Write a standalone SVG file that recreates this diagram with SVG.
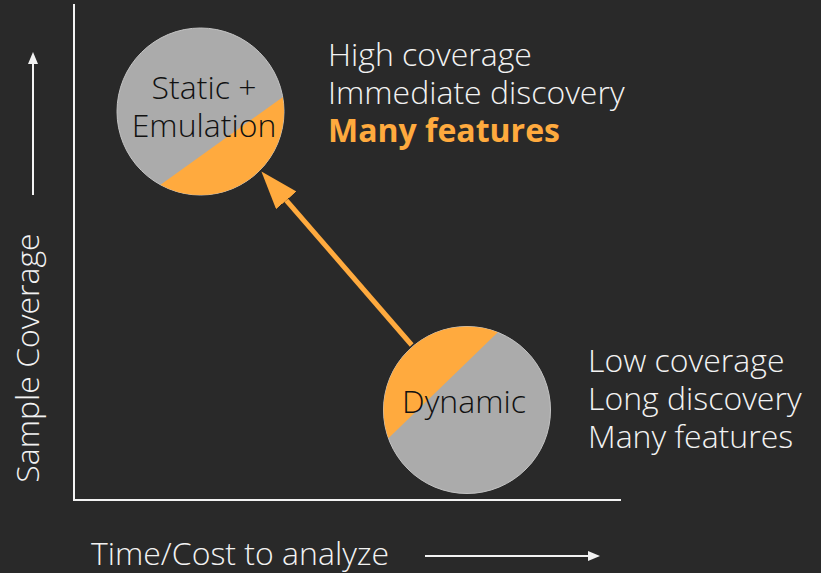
<svg xmlns="http://www.w3.org/2000/svg" width="821" height="573" viewBox="0 0 821 573">
  <style>
    .bg { fill: #292929; }
    .axis { stroke: #f2f2f2; stroke-width: 2; fill: none; }
    .guide { stroke: #f2f2f2; stroke-width: 2; fill: none; }
    .disc { fill: #ababab; stroke: #c4c4c4; stroke-width: 1; }
    .slice { fill: #ffaa3e; }
    .label { font-family: "Open Sans", "Liberation Sans", sans-serif; font-weight: 300; font-size: 32px; }
    .node-text { fill: #111111; text-anchor: middle; }
    .note { fill: #f2f2f2; }
    .note-hi { fill: #ffaa3e; font-weight: 700; }
    .axis-title { fill: #f2f2f2; }
    .flow { stroke: #ffaa3e; stroke-width: 5; fill: none; }
  </style>
  <defs>
    <marker id="head-white" markerUnits="userSpaceOnUse" viewBox="0 0 12 10" markerWidth="12" markerHeight="10" refX="0" refY="5" orient="auto">
      <path d="M0,0 L12,5 L0,10 z" fill="#f2f2f2"/>
    </marker>
    <marker id="head-orange" markerUnits="userSpaceOnUse" viewBox="0 0 38 27" markerWidth="38" markerHeight="27" refX="0" refY="13.5" orient="auto">
      <path d="M0,0 L38,13.5 L0,27 z" fill="#ffaa3e"/>
    </marker>
    <clipPath id="clip-static">
      <circle cx="200.5" cy="111.5" r="83.5"/>
    </clipPath>
    <clipPath id="clip-dynamic">
      <circle cx="467" cy="410" r="83.5"/>
    </clipPath>
  </defs>

  <rect class="bg" x="0" y="0" width="821" height="573"/>

  <!-- chart axes -->
  <g id="axes">
    <polyline class="axis" points="74,4 74,500 621,500"/>
    <line class="guide" x1="33" y1="195" x2="33" y2="64" marker-end="url(#head-white)"/>
    <line class="guide" x1="425" y1="556" x2="588" y2="556" marker-end="url(#head-white)"/>
    <text class="label axis-title" transform="translate(39,358) rotate(-90)" text-anchor="middle">Sample Coverage</text>
    <text class="label axis-title" x="91" y="565">Time/Cost to analyze</text>
  </g>

  <!-- connectors -->
  <g id="connectors">
    <line class="flow" x1="411.7" y1="345" x2="286.3" y2="200.3" marker-end="url(#head-orange)"/>
  </g>

  <!-- node: static + emulation -->
  <g id="node-static">
    <circle class="disc" cx="200.5" cy="111.5" r="83.5"/>
    <polygon class="slice" clip-path="url(#clip-static)" points="43,269 403,11 403,300 43,300"/>
    <text class="label node-text" x="204" y="99">Static +</text>
    <text class="label node-text" x="204" y="137">Emulation</text>
  </g>

  <!-- node: dynamic -->
  <g id="node-dynamic">
    <circle class="disc" cx="467" cy="410" r="83.5"/>
    <polygon class="slice" clip-path="url(#clip-dynamic)" points="280.6,542.6 603.7,229.7 280,229.7"/>
    <text class="label node-text" x="464" y="413">Dynamic</text>
  </g>

  <!-- annotations -->
  <g id="notes-static">
    <text class="label note" x="328" y="66">High coverage</text>
    <text class="label note" x="328" y="104">Immediate discovery</text>
    <text class="label note-hi" x="328" y="142">Many features</text>
  </g>
  <g id="notes-dynamic">
    <text class="label note" x="588" y="372">Low coverage</text>
    <text class="label note" x="588" y="410">Long discovery</text>
    <text class="label note" x="588" y="448">Many features</text>
  </g>
</svg>
